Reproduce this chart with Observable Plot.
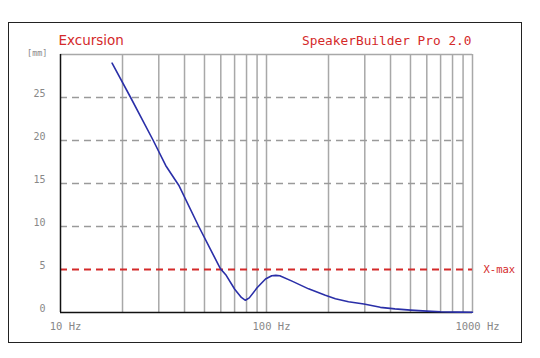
<!DOCTYPE html>
<html>
<head>
<meta charset="utf-8">
<script src="https://cdn.jsdelivr.net/npm/d3@7"></script>
<script src="https://cdn.jsdelivr.net/npm/@observablehq/plot@0.6"></script>
<style>
  html, body { margin: 0; padding: 0; background: #fff; }
  #wrap { position: relative; width: 540px; height: 358px; }
  #box { position: absolute; left: 8px; top: 22px; width: 512px; height: 319px; border: 1.5px solid #222; pointer-events: none; }
</style>
</head>
<body>
<div id="wrap"><div id="box"></div></div>
<script>
// Excursion curve (frequency in Hz, excursion in mm)
const freq = [17.8, 21.9, 28.2, 32.4, 35.4, 37.5, 46.9, 59.7, 63.4, 70.1, 75.5, 79.0, 82.5, 90.0, 98.9, 106.0, 111.0, 116.0, 133.0, 160.0, 193.0, 216.0, 250.0, 297.0, 357.0, 420.0, 500.0, 600.0, 700.0, 850.0, 1000.0];
const excursion = [29.0, 25.0, 20.0, 17.1, 15.7, 14.8, 10.0, 5.1, 4.4, 2.7, 1.75, 1.42, 1.7, 2.87, 3.9, 4.28, 4.32, 4.28, 3.65, 2.75, 2.0, 1.6, 1.25, 0.98, 0.6, 0.42, 0.28, 0.16, 0.08, 0.04, 0.03];

const xTicks = [10, 100, 1000];
const xTickLabels = ["10 Hz", "100 Hz", "1000 Hz"];
const yTicks = [0, 5, 10, 15, 20, 25];
const vGrid = [20, 30, 40, 50, 60, 70, 80, 90, 100, 200, 300, 400, 500, 600, 700, 800, 900, 1000];
const hGrid = [10, 15, 20, 25];
const xmax = [5];
const title = "Excursion";
const brand = "SpeakerBuilder Pro 2.0";
const unit = "[mm]";
const xmaxLabel = "X-max";

const data = freq.map((f, i) => ({f, e: excursion[i]}));
const red = "#d42a2a";
const mono = "'DejaVu Sans Mono', monospace";

const chart = Plot.plot({
  width: 540,
  height: 358,
  marginLeft: 60,
  marginRight: 68,
  marginTop: 54,
  marginBottom: 46,
  style: {background: "transparent", fontFamily: mono},
  x: {type: "log", domain: [10, 1000], ticks: xTicks, tickFormat: (d) => xTickLabels[xTicks.indexOf(d)], tickSize: 0, tickPadding: 10, label: null},
  y: {domain: [0, 30], ticks: yTicks, tickSize: 0, tickPadding: 15, label: null},
  marks: [
    Plot.ruleX(vGrid, {stroke: "#a8a8a8", strokeWidth: 1.5}),
    Plot.ruleY(hGrid, {x1: 10, x2: 950, stroke: "#9a9a9a", strokeWidth: 1.5, strokeDasharray: "7,5"}),
    Plot.ruleY([30], {stroke: "#a8a8a8", strokeWidth: 1.5}),
    Plot.ruleY(xmax, {x1: 10, x2: 1000, stroke: red, strokeWidth: 2, strokeDasharray: "7,5"}),
    Plot.ruleX([10], {stroke: "#111", strokeWidth: 1.5}),
    Plot.ruleY([0], {stroke: "#111", strokeWidth: 1.5}),
    Plot.line(data, {x: "f", y: "e", stroke: "#2a2fa8", strokeWidth: 1.6}),
    Plot.axisX({ticks: xTicks, tickFormat: (d) => xTickLabels[xTicks.indexOf(d)], tickSize: 0, tickPadding: 10, dx: 5, fontSize: 10.5, fill: "#888", fontFamily: mono, label: null}),
    Plot.axisY({ticks: yTicks, tickSize: 0, tickPadding: 15, dy: -4, fontSize: 10, fill: "#888", fontFamily: mono, label: null}),
    Plot.text([unit], {frameAnchor: "top-left", textAnchor: "end", dx: -13, dy: -5, fontSize: 8.5, fill: "#888", fontFamily: mono}),
    Plot.text([title], {frameAnchor: "top-left", textAnchor: "start", dx: -2, dy: -19, fontSize: 13.5, fill: red, fontFamily: "'DejaVu Sans', sans-serif"}),
    Plot.text([brand], {frameAnchor: "top-right", textAnchor: "end", dx: -1, dy: -19, fontSize: 12.8, fill: red, fontFamily: mono}),
    Plot.text([xmaxLabel], {y: xmax, frameAnchor: "right", textAnchor: "start", dx: 11, dy: 0, fontSize: 10.5, fill: red, fontFamily: mono})
  ]
});
document.getElementById("wrap").appendChild(chart);
chart.style.position = "absolute";
chart.style.left = "0";
chart.style.top = "0";
</script>
</body>
</html>
